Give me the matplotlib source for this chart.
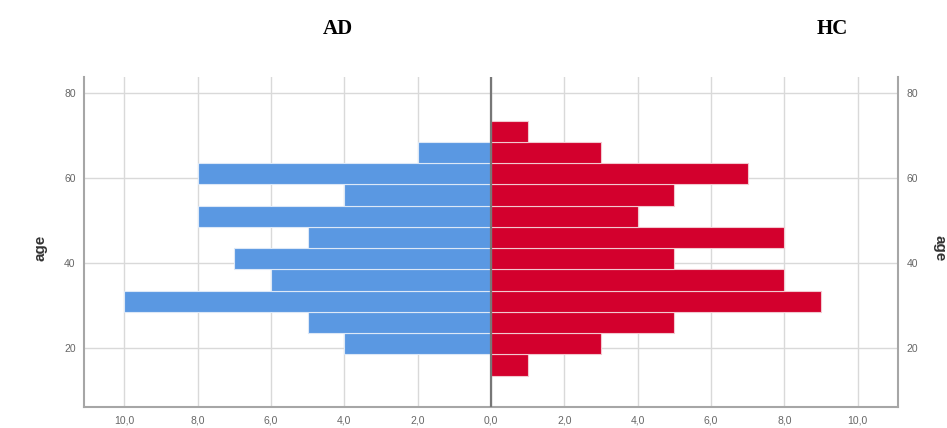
import matplotlib.pyplot as plt
from matplotlib.ticker import FuncFormatter

# age bins (centres, 5-year width) and counts per group
ages = [16, 21, 26, 31, 36, 41, 46, 51, 56, 61, 66, 71]
ad_counts = [0, 4, 5, 10, 6, 7, 5, 8, 4, 8, 2, 0]
hc_counts = [1, 3, 5, 9, 8, 5, 8, 4, 5, 7, 3, 1]
x_ticks = [-10, -8, -6, -4, -2, 0, 2, 4, 6, 8, 10]
y_ticks = [20, 40, 60, 80]

blue = '#5A98E2'
red = '#D3002D'
grid_c = '#d9d9d9'
spine_c = '#a6a6a6'
text_c = '#666666'

fig = plt.figure(figsize=(9.47, 4.28), dpi=100)
ax = fig.add_axes([0.0887, 0.049, 0.8596, 0.771])

ax.barh(ages, [-v for v in ad_counts], height=5, color=blue,
        edgecolor='#dce8f7', linewidth=0.8, zorder=3)
ax.barh(ages, hc_counts, height=5, color=red,
        edgecolor='#f2c8cf', linewidth=0.8, zorder=3)

ax.set_xlim(-11.1, 11.1)
ax.set_ylim(6.1, 83.8)
ax.set_xticks(x_ticks)
ax.set_yticks(y_ticks)
ax.xaxis.set_major_formatter(FuncFormatter(lambda v, p: f"{abs(v):.1f}".replace('.', ',')))
ax.grid(True, color=grid_c, linewidth=1, zorder=0)
ax.axvline(0, color='#777777', linewidth=1.6, zorder=4)

for s in ['left', 'bottom', 'right']:
    ax.spines[s].set_color(spine_c)
    ax.spines[s].set_linewidth(1.5)
ax.spines['top'].set_visible(False)
ax.tick_params(axis='both', length=0, labelsize=7.5, labelcolor=text_c,
               pad=6)
for lab in ax.get_xticklabels() + ax.get_yticklabels():
    lab.set_family('Liberation Sans')

ax2 = ax.twinx()
ax2.set_ylim(ax.get_ylim())
ax2.set_yticks(y_ticks)
ax2.tick_params(axis='y', length=0, labelsize=7.5, labelcolor=text_c, pad=6)
for lab in ax2.get_yticklabels():
    lab.set_family('Liberation Sans')
for s in ax2.spines.values():
    s.set_visible(False)

# axis titles on both sides
fig.text(40 / 947, 0.42, 'age', fontsize=11, fontweight='bold', color='#333333',
         family='Liberation Sans', rotation=90, ha='center', va='center')
fig.text(939 / 947, 0.42, 'age', fontsize=11, fontweight='bold', color='#333333',
         family='Liberation Sans', rotation=270, ha='center', va='center')

fig.text(0.357, 0.932, 'AD', fontsize=15, fontweight='bold',
         family='Liberation Serif', ha='center', va='center')
fig.text(0.879, 0.932, 'HC', fontsize=15, fontweight='bold',
         family='Liberation Serif', ha='center', va='center')

fig.savefig('out.png', dpi=100)
